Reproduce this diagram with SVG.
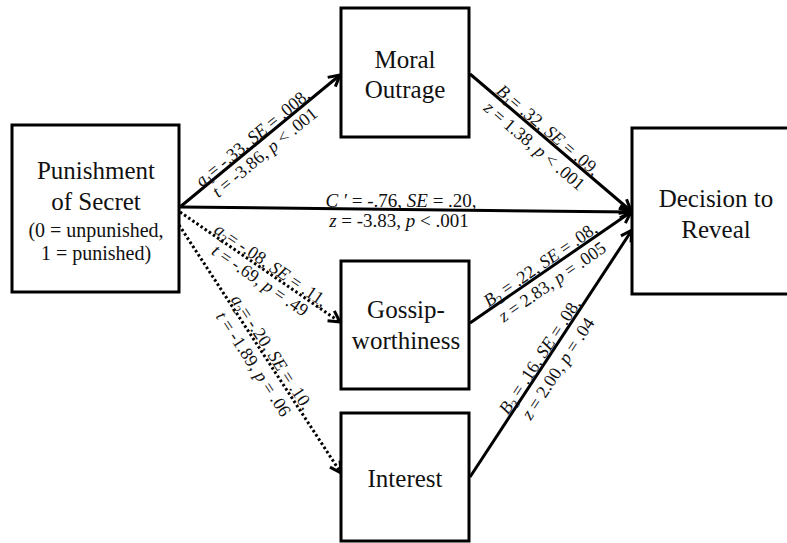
<svg xmlns="http://www.w3.org/2000/svg" width="787" height="543" viewBox="0 0 787 543" font-family="'Liberation Serif', 'DejaVu Serif', serif">
<style>
.box{fill:#fff;stroke:#000;stroke-width:3}
.t{font-family:'Liberation Serif','DejaVu Serif','Times New Roman',serif;font-size:25px;fill:#111;text-anchor:middle}
.s{font-size:20px}
.lbl{font-family:'Liberation Serif','DejaVu Serif','Times New Roman',serif;font-size:18px;fill:#111;text-anchor:middle}
.c{font-size:19px}
.i{font-style:italic}
.ln{fill:none;stroke:#000;stroke-width:3}
.dot{stroke-dasharray:2.5 2.5}
</style>
<defs>
<marker id="ah" markerUnits="userSpaceOnUse" markerWidth="16" markerHeight="16" viewBox="0 0 16 16" refX="14" refY="8" orient="auto">
<path d="M3,2 L14,8 L3,14" fill="none" stroke="#000" stroke-width="3"/>
</marker>
</defs>
<rect width="787" height="543" fill="#fff"/>
<g id="connectors">
<line class="ln" x1="180" y1="207" x2="340" y2="75" marker-end="url(#ah)"/>
<line class="ln" x1="180" y1="207" x2="631" y2="212" marker-end="url(#ah)"/>
<line class="ln dot" x1="180" y1="212" x2="340" y2="322" marker-end="url(#ah)"/>
<line class="ln dot" x1="179" y1="225" x2="341" y2="473" marker-end="url(#ah)"/>
<line class="ln" x1="470" y1="74" x2="631" y2="211" marker-end="url(#ah)"/>
<line class="ln" x1="470" y1="323" x2="631" y2="212" marker-end="url(#ah)"/>
<line class="ln" x1="470" y1="477" x2="632" y2="230" marker-end="url(#ah)"/>
</g>
<g id="labels">
<g transform="translate(257,143) rotate(-39.5)">
<text class="lbl" y="-1"><tspan class="i">a</tspan><tspan font-size="12" dy="4">1</tspan><tspan dy="-4">= -.33, </tspan><tspan class="i">SE</tspan> = .008,</text>
<text class="lbl" y="18"><tspan class="i">t</tspan> = -3.86, <tspan class="i">p</tspan> &lt; .001</text>
</g>
<g transform="translate(543,136) rotate(40.5)">
<text class="lbl" y="-2"><tspan class="i">B</tspan><tspan font-size="12" dy="4">1</tspan><tspan dy="-4">= .32, </tspan><tspan class="i">SE</tspan> = .09,</text>
<text class="lbl" y="19"><tspan class="i">z</tspan> = 1.38, <tspan class="i">p</tspan> &lt; .001</text>
</g>
<text class="lbl c" x="401" y="207"><tspan class="i">C ′</tspan> = -.76, <tspan class="i">SE</tspan> = .20,</text>
<text class="lbl c" x="399" y="227"><tspan class="i">z</tspan> = -3.83, <tspan class="i">p</tspan> &lt; .001</text>
<g transform="translate(266.5,271.4) rotate(34.5)">
<text class="lbl" y="-2"><tspan class="i">a</tspan><tspan font-size="12" dy="4">2</tspan><tspan dy="-4">= -.08, </tspan><tspan class="i">SE</tspan> = .11,</text>
<text class="lbl" y="17"><tspan class="i">t</tspan> = -.69, <tspan class="i">p</tspan> = .49</text>
</g>
<g transform="translate(265.2,356.3) rotate(56.7)">
<text class="lbl" y="-2"><tspan class="i">a</tspan><tspan font-size="12" dy="4">2</tspan><tspan dy="-4">= -.20, </tspan><tspan class="i">SE</tspan> = .10,</text>
<text class="lbl" y="20"><tspan class="i">t</tspan> = -1.89, <tspan class="i">p</tspan> = .06</text>
</g>
<g transform="translate(544.8,271.1) rotate(-34.75)">
<text class="lbl" y="-2"><tspan class="i">B</tspan><tspan font-size="12" dy="4">2</tspan><tspan dy="-4"> = .22, </tspan><tspan class="i">SE</tspan> = .08,</text>
<text class="lbl" y="19"><tspan class="i">z</tspan> = 2.83, <tspan class="i">p</tspan> = .005</text>
</g>
<g transform="translate(546.3,360.8) rotate(-56.7)">
<text class="lbl" y="-2"><tspan class="i">B</tspan><tspan font-size="12" dy="4">3</tspan><tspan dy="-4"> = .16, </tspan><tspan class="i">SE</tspan> = .08,</text>
<text class="lbl" y="20"><tspan class="i">z</tspan> = 2.00, <tspan class="i">p</tspan> = .04</text>
</g>
</g>
<g id="punishment">
<rect class="box" x="12" y="125" width="167" height="167"/>
<text class="t" x="96" y="179">Punishment</text>
<text class="t" x="96" y="210">of Secret</text>
<text class="t s" x="96" y="237">(0 = unpunished,</text>
<text class="t s" x="96" y="260">1 = punished)</text>
</g>
<g id="moral">
<rect class="box" x="341" y="8" width="128" height="129"/>
<text class="t" x="405" y="68">Moral</text>
<text class="t" x="405" y="98">Outrage</text>
</g>
<g id="gossip">
<rect class="box" x="341" y="261" width="128" height="128"/>
<text class="t" x="406" y="318">Gossip-</text>
<text class="t" x="406" y="349">worthiness</text>
</g>
<g id="interest">
<rect class="box" x="341" y="413" width="128" height="128"/>
<text class="t" x="405" y="487">Interest</text>
</g>
<g id="decision">
<rect class="box" x="632" y="128" width="170" height="166"/>
<text class="t" x="716" y="207">Decision to</text>
<text class="t" x="716" y="238">Reveal</text>
</g>
</svg>
